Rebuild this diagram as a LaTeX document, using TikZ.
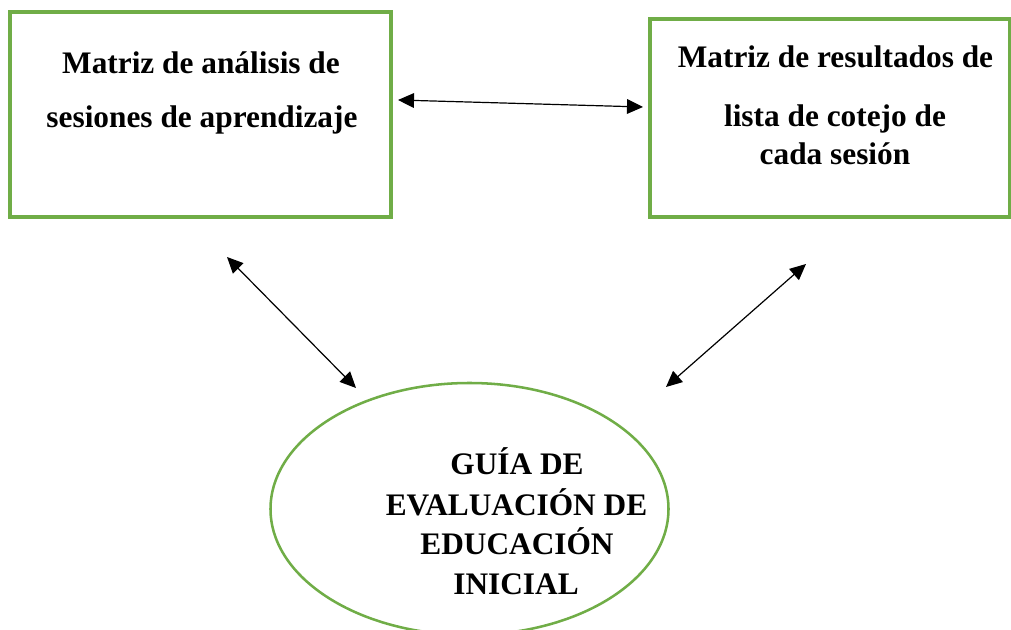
\documentclass[tikz,border=0pt]{standalone}
\usepackage{fontspec}
\setmainfont{Liberation Serif}
\usetikzlibrary{arrows.meta,shapes.geometric}
\definecolor{boxgreen}{RGB}{112,173,71}
\begin{document}
\begin{tikzpicture}[x=0.75pt,y=-0.75pt,
  frame/.style={draw=boxgreen,line width=2.3pt,rectangle,inner sep=0pt},
  oval/.style={draw=boxgreen,line width=1.9pt,ellipse,inner sep=0pt},
  txt/.style={anchor=base,inner sep=0pt,font=\fontsize{23.5}{28}\selectfont\bfseries},
  link/.style={line width=0.9pt,{Triangle[length=12pt,width=11pt]}-{Triangle[length=12pt,width=11pt]}}]
\useasboundingbox (0,0) rectangle (1011,630);
% shapes
\node[frame,minimum width=381*0.75pt,minimum height=205*0.75pt] (b1) at (200.5,114.5) {};
\node[frame,minimum width=360*0.75pt,minimum height=198*0.75pt] (b2) at (830,118) {};
\node[oval,minimum width=398*0.75pt,minimum height=252*0.75pt] (e) at (469.5,509) {};
% texts
\node[txt] (t11) at (201,74) {Matriz de análisis de};
\node[txt] (t12) at (202,128) {sesiones de aprendizaje};
\node[txt] (t21) at (835.5,68) {Matriz de resultados de};
\node[txt] (t22) at (835,127) {lista de cotejo de};
\node[txt] (t23) at (835,165) {cada sesión};
\node[txt] (t31) at (517,475) {GUÍA DE};
\node[txt] (t32) at (516.5,516) {EVALUACIÓN DE};
\node[txt] (t33) at (517,555) {EDUCACIÓN};
\node[txt] (t34) at (516,595) {INICIAL};
% arrow ends
\coordinate (h1) at (398,100);
\coordinate (h2) at (643,107);
\coordinate (l1) at (227,257);
\coordinate (l2) at (356,388);
\coordinate (r1) at (806,264);
\coordinate (r2) at (666,387);
\draw[link] (h1) -- (h2);
\draw[link] (l1) -- (l2);
\draw[link] (r1) -- (r2);
\end{tikzpicture}
\end{document}
